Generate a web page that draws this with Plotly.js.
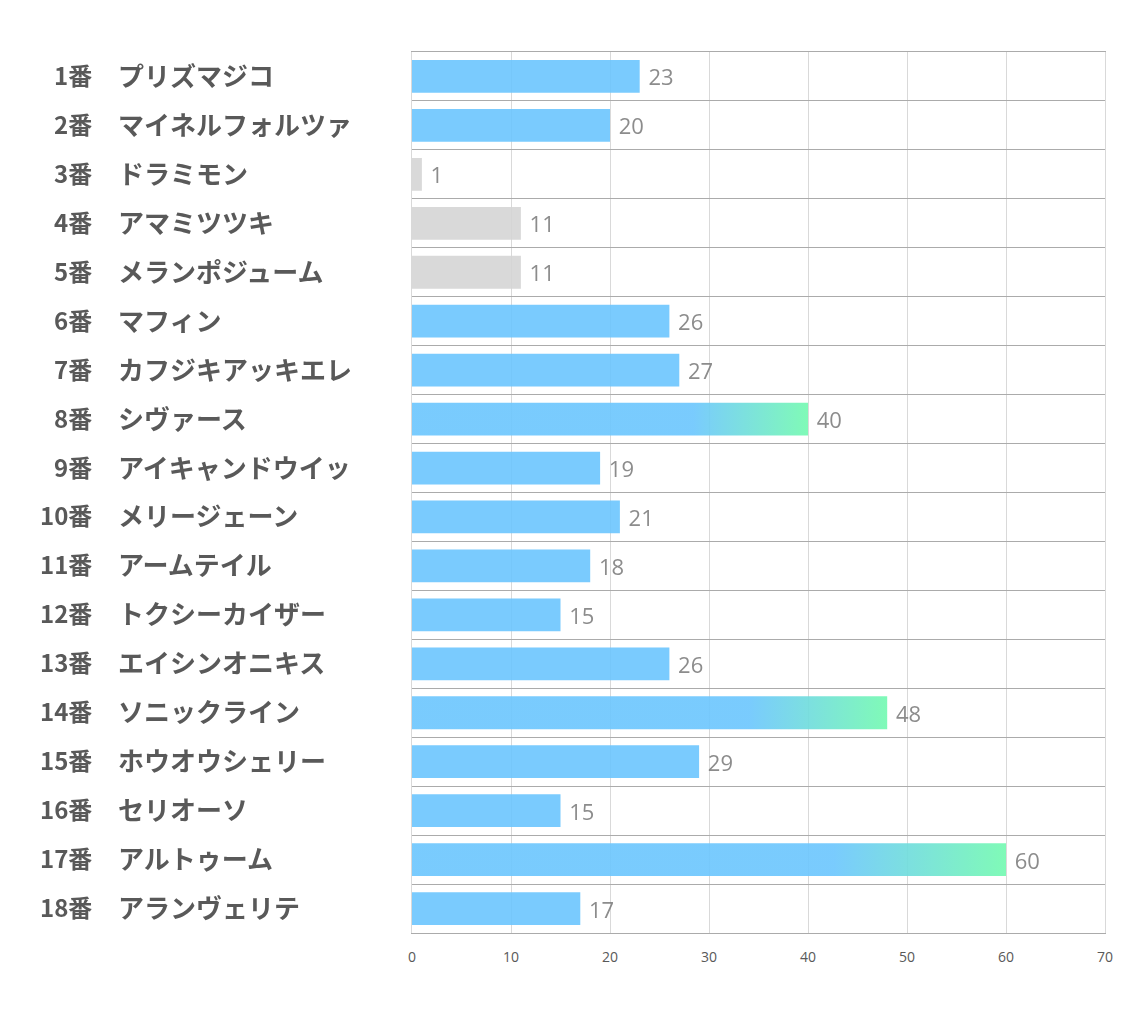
<!DOCTYPE html>
<html>
<head>
<meta charset="utf-8">
<script src="https://cdn.plot.ly/plotly-3.0.1.min.js"></script>
<style>html,body{margin:0;padding:0;background:#fff;}#chart{width:1134px;height:1020px;}</style>
</head>
<body>
<div id="chart"></div>
<script>
const numbers = ["1番","2番","3番","4番","5番","6番","7番","8番","9番","10番","11番","12番","13番","14番","15番","16番","17番","18番"];
const horses = ["プリズマジコ","マイネルフォルツァ","ドラミモン","アマミツツキ","メランポジューム","マフィン","カフジキアッキエレ","シヴァース","アイキャンドウイッ","メリージェーン","アームテイル","トクシーカイザー","エイシンオニキス","ソニックライン","ホウオウシェリー","セリオーソ","アルトゥーム","アランヴェリテ"];
const values = [23,20,1,11,11,26,27,40,19,21,18,15,26,48,29,15,60,17];
const kind = ["blue","blue","grey","grey","grey","blue","blue","grad","blue","blue","blue","blue","blue","grad","blue","blue","grad","blue"];
const xTicks = [0,10,20,30,40,50,60,70];

const BLUE = "rgb(107,198,254)";
const GREY = "rgb(213,213,213)";
const BAR_W = 0.67;
const idx = values.map((v,i)=>i);

const traces = [];
traces.push({
  type: "bar",
  orientation: "h",
  x: values,
  y: idx,
  width: BAR_W,
  marker: {color: kind.map(k => k==="blue" ? BLUE : (k==="grey" ? GREY : "rgba(0,0,0,0)")), line:{width:0}},
  opacity: 0.9,
  text: values.map(v => "\u00a0" + v),
  textposition: "outside",
  textfont: {family: "Open Sans, sans-serif", size: 22, color: "#7f7f7f"},
  cliponaxis: false,
  hoverinfo: "skip",
  showlegend: false
});
values.forEach((v,i) => {
  if (kind[i] !== "grad") return;
  const h = BAR_W/2;
  traces.push({
    type: "scatter",
    mode: "lines",
    x: [0, v, v, 0, 0],
    y: [i-h, i-h, i+h, i+h, i-h],
    fill: "toself",
    line: {width: 0},
    fillgradient: {type: "horizontal", start: v*0.71, stop: v,
      colorscale: [[0,"rgba(107,198,254,0.9)"],[1,"rgba(114,250,176,0.9)"]]},
    hoverinfo: "skip",
    showlegend: false
  });
});

const annotations = [];
idx.forEach(i => {
  annotations.push({xref:"paper", yref:"y", x:0, y:i, xshift:-318, yshift:2, xanchor:"right", yanchor:"middle",
    text: numbers[i], showarrow:false,
    font:{family:"Noto Sans CJK JP, sans-serif", size:24, color:"#595959", weight:700}});
  annotations.push({xref:"paper", yref:"y", x:0, y:i, xshift:-296, yshift:2, xanchor:"left", yanchor:"middle",
    text: horses[i], showarrow:false,
    font:{family:"Noto Sans CJK JP, sans-serif", size:26, color:"#595959", weight:700}});
});

const boundaries = [];
for (let b = -0.5; b <= values.length - 0.5; b += 1) boundaries.push(b);

const layout = {
  width: 1134, height: 1020,
  margin: {l: 412, r: 29, t: 52, b: 87},
  paper_bgcolor: "#fff", plot_bgcolor: "#fff",
  xaxis: {
    range: [0,70], tickvals: xTicks, ticktext: xTicks.map(String),
    showgrid: true, gridcolor: "#d9d9d9", gridwidth: 1,
    zeroline: false, showline: true, mirror: true, linecolor: "#ababab", linewidth: 1,
    ticks: "", ticklabelstandoff: 11,
    tickfont: {family: "Open Sans, sans-serif", size: 14, color: "#595959"}
  },
  yaxis: {
    range: [values.length - 0.5, -0.5],
    tickvals: boundaries, showticklabels: false, ticks: "",
    showgrid: true, gridcolor: "#ababab", gridwidth: 1,
    zeroline: false, showline: true, mirror: true, linecolor: "#d9d9d9", linewidth: 1
  },
  annotations: annotations,
  bargap: 0.33
};

Plotly.newPlot("chart", traces, layout, {staticPlot: true, displayModeBar: false});
</script>
</body>
</html>
